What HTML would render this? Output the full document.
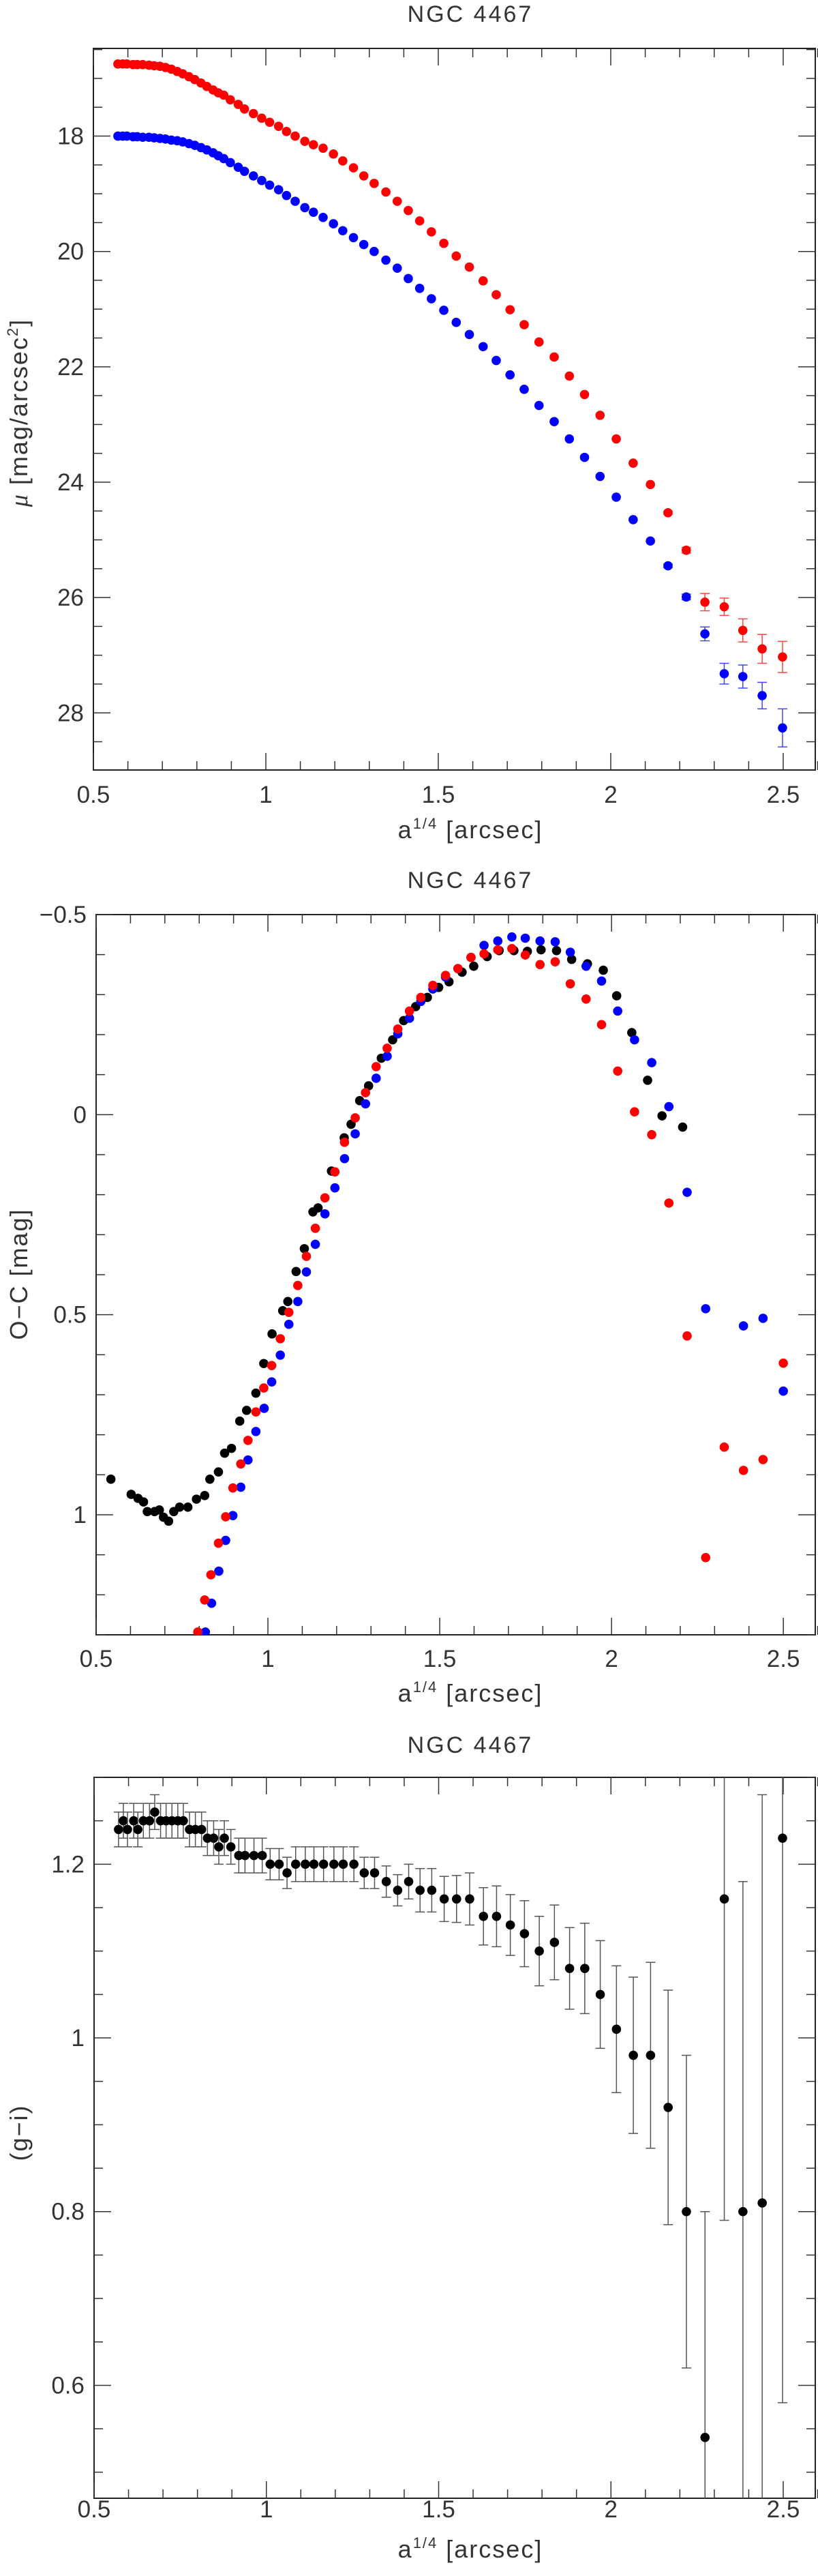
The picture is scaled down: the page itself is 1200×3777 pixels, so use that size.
<!DOCTYPE html>
<html><head><meta charset="utf-8"><style>
html,body{margin:0;padding:0;background:#fff;width:1200px;height:3777px;overflow:hidden;}
svg{display:block;}
text{font-family:"Liberation Sans",sans-serif;fill:#333;}
</style></head><body>
<svg id="fig" width="1200" height="3777" viewBox="0 0 1200 3777" xmlns="http://www.w3.org/2000/svg"></svg>
<script>
// shared radius coordinate a^(1/4)
const xs = [0.571,0.585,0.597,0.615,0.627,0.643,0.661,0.676,0.693,0.709,0.726,0.743,0.759,0.777,0.794,0.812,0.829,0.847,0.862,0.878,0.897,0.920,0.938,0.964,0.988,1.011,1.037,1.060,1.085,1.113,1.138,1.166,1.196,1.223,1.254,1.284,1.314,1.348,1.381,1.413,1.446,1.480,1.516,1.552,1.590,1.630,1.668,1.708,1.749,1.792,1.836,1.880,1.924,1.969,2.016,2.065,2.115,2.166,2.219,2.273,2.329,2.383,2.439,2.498];
// panel 1 surface brightness
const muRed = [16.75,16.75,16.75,16.76,16.76,16.76,16.77,16.78,16.79,16.81,16.84,16.88,16.92,16.97,17.02,17.08,17.14,17.2,17.25,17.29,17.37,17.45,17.53,17.61,17.69,17.76,17.83,17.92,18.0,18.09,18.15,18.21,18.31,18.43,18.55,18.69,18.82,18.97,19.13,19.29,19.47,19.66,19.86,20.08,20.27,20.51,20.75,21.01,21.27,21.57,21.83,22.16,22.48,22.84,23.25,23.67,24.04,24.53,25.18,26.08,26.16,26.57,26.89,27.03];
const muRedErr = [0,0,0,0,0,0,0,0,0,0,0,0,0,0,0,0,0,0,0,0,0,0,0,0,0,0,0,0,0,0,0,0,0,0,0,0,0,0,0,0,0,0,0,0,0,0,0,0,0,0,0,0,0,0,0,0,0,0.02,0.05,0.15,0.15,0.2,0.25,0.27];
const muBlue = [18.0,18.0,18.0,18.01,18.01,18.02,18.02,18.03,18.04,18.05,18.07,18.08,18.1,18.13,18.16,18.2,18.24,18.29,18.34,18.39,18.46,18.54,18.61,18.69,18.77,18.85,18.93,19.03,19.13,19.24,19.32,19.41,19.52,19.64,19.76,19.88,20.0,20.15,20.29,20.47,20.64,20.82,21.02,21.23,21.44,21.65,21.89,22.14,22.39,22.67,22.95,23.25,23.57,23.9,24.26,24.65,25.02,25.45,25.99,26.63,27.32,27.37,27.7,28.26];
const muBlueErr = [0,0,0,0,0,0,0,0,0,0,0,0,0,0,0,0,0,0,0,0,0,0,0,0,0,0,0,0,0,0,0,0,0,0,0,0,0,0,0,0,0,0,0,0,0,0,0,0,0,0,0,0,0,0,0,0,0,0.03,0.05,0.12,0.18,0.2,0.23,0.33];
// panel 2 O-C residuals
const ocBlackX = [0.543,0.602,0.622,0.638,0.649,0.670,0.684,0.696,0.711,0.726,0.743,0.767,0.792,0.816,0.831,0.856,0.874,0.894,0.918,0.938,0.965,0.988,1.012,1.043,1.058,1.082,1.106,1.131,1.146,1.185,1.222,1.242,1.267,1.293,1.330,1.363,1.395,1.430,1.464,1.497,1.527,1.565,1.599,1.638,1.673,1.716,1.755,1.795,1.840,1.884,1.930,1.976,2.015,2.059,2.105,2.147,2.207];
const ocBlack = [0.911,0.949,0.959,0.968,0.992,0.992,0.988,1.006,1.016,0.992,0.981,0.981,0.961,0.952,0.911,0.893,0.846,0.834,0.766,0.739,0.696,0.622,0.548,0.490,0.467,0.392,0.335,0.243,0.233,0.141,0.058,0.024,-0.035,-0.072,-0.141,-0.187,-0.235,-0.270,-0.293,-0.318,-0.332,-0.356,-0.371,-0.395,-0.410,-0.410,-0.408,-0.412,-0.410,-0.388,-0.377,-0.361,-0.297,-0.205,-0.086,0.003,0.031];
const ocRedX = [0.796,0.816,0.834,0.856,0.877,0.898,0.921,0.942,0.965,0.988,1.011,1.036,1.061,1.087,1.112,1.138,1.166,1.195,1.223,1.254,1.284,1.315,1.347,1.378,1.412,1.445,1.480,1.517,1.553,1.591,1.629,1.669,1.710,1.749,1.792,1.836,1.880,1.926,1.971,2.018,2.067,2.117,2.167,2.220,2.274,2.328,2.384,2.441,2.500];
const ocRed = [1.293,1.213,1.150,1.071,1.005,0.933,0.873,0.814,0.743,0.683,0.627,0.560,0.494,0.427,0.354,0.284,0.208,0.143,0.069,0.008,-0.055,-0.120,-0.166,-0.214,-0.259,-0.293,-0.323,-0.348,-0.365,-0.393,-0.402,-0.412,-0.415,-0.399,-0.375,-0.382,-0.327,-0.289,-0.225,-0.109,-0.007,0.050,0.221,0.553,1.107,0.831,0.889,0.862,0.621];
const ocBlueX = [0.818,0.836,0.857,0.877,0.898,0.921,0.942,0.965,0.989,1.011,1.036,1.061,1.087,1.112,1.138,1.166,1.195,1.223,1.254,1.284,1.315,1.347,1.378,1.412,1.445,1.480,1.517,1.553,1.591,1.629,1.669,1.710,1.749,1.792,1.836,1.880,1.926,1.971,2.018,2.067,2.117,2.167,2.220,2.274,2.384,2.441,2.500];
const ocBlue = [1.293,1.221,1.141,1.064,1.002,0.931,0.863,0.792,0.734,0.668,0.601,0.524,0.467,0.393,0.324,0.248,0.183,0.110,0.048,-0.027,-0.091,-0.146,-0.202,-0.241,-0.283,-0.314,-0.344,-0.365,-0.393,-0.423,-0.434,-0.444,-0.441,-0.434,-0.432,-0.406,-0.371,-0.334,-0.259,-0.187,-0.130,-0.020,0.194,0.485,0.528,0.509,0.691];
// panel 3 colour profile
const gi = [1.24,1.25,1.24,1.25,1.24,1.25,1.25,1.26,1.25,1.25,1.25,1.25,1.25,1.24,1.24,1.24,1.23,1.23,1.22,1.23,1.22,1.21,1.21,1.21,1.21,1.20,1.20,1.19,1.20,1.20,1.20,1.20,1.20,1.20,1.20,1.19,1.19,1.18,1.17,1.18,1.17,1.17,1.16,1.16,1.16,1.14,1.14,1.13,1.12,1.10,1.11,1.08,1.08,1.05,1.01,0.98,0.98,0.92,0.80,0.54,1.16,0.80,0.81,1.23];
const giErr = [0.02,0.02,0.02,0.02,0.02,0.02,0.02,0.02,0.02,0.02,0.02,0.02,0.02,0.02,0.02,0.02,0.02,0.02,0.02,0.02,0.02,0.02,0.02,0.02,0.02,0.018,0.018,0.018,0.02,0.02,0.02,0.02,0.02,0.02,0.02,0.018,0.018,0.018,0.018,0.02,0.025,0.025,0.026,0.027,0.03,0.033,0.035,0.035,0.038,0.04,0.043,0.047,0.052,0.062,0.073,0.09,0.107,0.135,0.18,0.26,0.37,0.38,0.47,0.65];
const xTicks = [0.5,1,1.5,2,2.5];
const xTickLabels = ["0.5","1","1.5","2","2.5"];

const NS = "http://www.w3.org/2000/svg";
const fig = document.getElementById('fig');
function mk(tag, attrs, parent){
  const e = document.createElementNS(NS, tag);
  for (const k in attrs) e.setAttribute(k, attrs[k]);
  (parent||fig).appendChild(e);
  return e;
}
function fmt(v){ return (Math.round(v*100)/100).toString().replace('-', '\u2212'); }

function panel(cfg){
  const g = mk('g', {});
  
  
  const L=cfg.L, R=1196, T=cfg.T, B=cfg.B;
  const sx = v => L + (v-0.5)/(2.593-0.5)*(R-L);
  const sy = cfg.invert
    ? (v => B - (v-cfg.y0)/(cfg.y1-cfg.y0)*(B-T))
    : (v => T + (v-cfg.y0)/(cfg.y1-cfg.y0)*(B-T));
  const clipId = cfg.name+'-clip';
  const cp = mk('clipPath', {id: clipId}, g);
  mk('rect', {x:L, y:T, width:R-L, height:B-T}, cp);
  const t = mk('text', {x:690, y:cfg.titleY, 'text-anchor':'middle', 'font-size':34, 'letter-spacing':3}, g);
  t.textContent = 'NGC 4467';
  
  
  const fr = mk('rect', {x:L, y:T, width:R-L, height:B-T, fill:'none', stroke:'#222', 'stroke-width':2}, g);
  
  
  const tk = mk('g', {stroke:'#333', 'stroke-width':1.5}, g);
  
  
  for (let i=5;i<=26;i++){
    const v=i/10, x=sx(v), maj = (i%5===0), len = maj?25:13;
    mk('line',{x1:x,y1:B,x2:x,y2:B-len},tk);
    mk('line',{x1:x,y1:T,x2:x,y2:T+len},tk);
  }
  xTicks.forEach((v,i)=>{
    const tl = mk('text',{x:sx(v), y:cfg.xlabY, 'text-anchor':'middle','font-size':35}, g);
    tl.textContent = xTickLabels[i];
    
    
  });
  const xl = mk('text',{x:690, y:cfg.xtitleY, 'text-anchor':'middle','font-size':36,'letter-spacing':2}, g);
  xl.innerHTML = 'a<tspan font-size="22" dy="-14">1/4</tspan><tspan dy="14"> [arcsec]</tspan>';
  
  
  const start = Math.ceil(cfg.y0/cfg.minor - 1e-6);
  for (let k=start; k*cfg.minor <= cfg.y1+1e-9; k++){
    const v = k*cfg.minor, y = sy(v);
    const maj = Math.abs(v/cfg.major - Math.round(v/cfg.major))<1e-6;
    const len = maj?25:13;
    mk('line',{x1:L,y1:y,x2:L+len,y2:y},tk);
    mk('line',{x1:R,y1:y,x2:R-len,y2:y},tk);
    if (maj && cfg.labels.indexOf(Math.round(v*100)/100)>=0){
      const yl = mk('text',{x:L-14, y:y+12, 'text-anchor':'end','font-size':35}, g);
      yl.textContent = fmt(v);
      
      
    }
  }
  const yt = mk('text',{x:0,y:0,'text-anchor':'middle','font-size':36,'letter-spacing':2,transform:`translate(40,${cfg.ytitleY}) rotate(-90)`}, g);
  yt.innerHTML = cfg.ytitle;
  
  
  const data = mk('g', {'clip-path':`url(#${clipId})`}, g);
  cfg.series.forEach(s=>{
    const sg = mk('g', {}, data);
    
    
    s.ys.forEach((v,i)=>{
      const x = sx(s.xs[i]), y = sy(v);
      if (s.err && s.err[i] > 0){
        const e = s.err[i];
        mk('line',{x1:x,y1:sy(v-e),x2:x,y2:sy(v+e),stroke:s.ecol,'stroke-width':1.5},sg);
        mk('line',{x1:x-7,y1:sy(v-e),x2:x+7,y2:sy(v-e),stroke:s.ecol,'stroke-width':1.5},sg);
        mk('line',{x1:x-7,y1:sy(v+e),x2:x+7,y2:sy(v+e),stroke:s.ecol,'stroke-width':1.5},sg);
      }
      const c = mk('circle',{cx:x,cy:y,r:6.8,fill:s.col},sg);
      
      
    });
  });
}

panel({name:'surface-brightness-panel', L:137, T:71, B:1129, y0:16.48, y1:28.99, minor:0.5, major:2,
  labels:[18,20,22,24,26,28], titleY:32, xlabY:1177, xtitleY:1229, ytitleY:605,
  ytitle:'<tspan font-style="italic" font-family="Liberation Serif">μ</tspan> [mag/arcsec<tspan font-size="22" dy="-14">2</tspan><tspan dy="14">]</tspan>',
  series:[
    {name:'i-band-profile', xs:xs, ys:muRed, err:muRedErr, col:'#f00', ecol:'#f44'},
    {name:'g-band-profile', xs:xs, ys:muBlue, err:muBlueErr, col:'#00f', ecol:'#44f'}
  ]});

panel({name:'residuals-panel', L:141, T:1341, B:2397, y0:-0.5, y1:1.3, minor:0.1, major:0.5,
  labels:[-0.5,0,0.5,1], titleY:1302, xlabY:2444, xtitleY:2495, ytitleY:1868,
  ytitle:'O\u2212C [mag]',
  series:[
    {name:'black-residuals', xs:ocBlackX, ys:ocBlack, col:'#000'},
    {name:'blue-residuals', xs:ocBlueX, ys:ocBlue, col:'#00f'},
    {name:'red-residuals', xs:ocRedX, ys:ocRed, col:'#f00'}
  ]});

panel({name:'color-profile-panel', L:138, T:2606, B:3663, y0:0.47, y1:1.30, minor:0.05, major:0.2, invert:true,
  labels:[0.6,0.8,1,1.2], titleY:2570, xlabY:3691, xtitleY:3750, ytitleY:3127,
  ytitle:'(g\u2212i)',
  series:[
    {name:'g-i-color', xs:xs, ys:gi, err:giErr, col:'#000', ecol:'#555'}
  ]});
</script>
</body></html>
